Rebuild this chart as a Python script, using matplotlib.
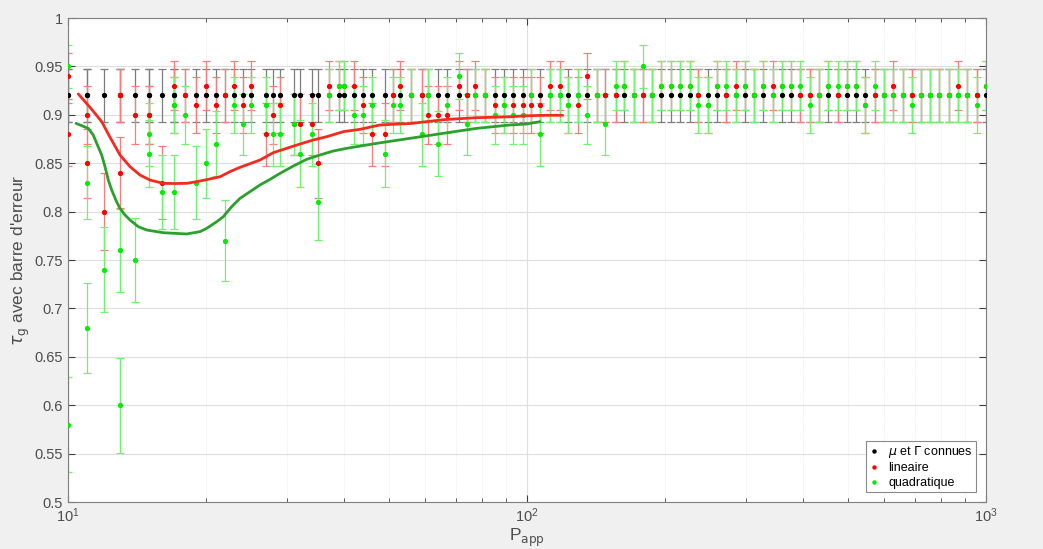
import matplotlib
matplotlib.use("Agg")
import matplotlib.pyplot as plt
import numpy as np
from matplotlib.ticker import FixedLocator, FuncFormatter, LogLocator, NullFormatter

# ---------------- data ----------------
p_app = [10, 10, 11, 11, 12, 13, 13, 14, 15, 15,
         16, 17, 17, 18, 19, 20, 21, 22, 23, 24,
         25, 27, 28, 29, 31, 32, 34, 35, 37, 39,
         40, 42, 44, 46, 49, 51, 53, 56, 59, 61,
         64, 67, 71, 74, 77, 81, 85, 89, 93, 98,
         102, 107, 112, 118, 123, 129, 135, 142, 148, 156,
         163, 171, 179, 187, 196, 206, 215, 226, 236, 248,
         260, 272, 285, 298, 313, 327, 343, 359, 376, 394,
         413, 433, 453, 475, 498, 521, 546, 572, 599, 628,
         658, 689, 722, 756, 792, 830, 870, 911, 955, 1000]

tau_connues = [0.92, 0.92, 0.92, 0.92, 0.92, 0.92, 0.92, 0.92, 0.92, 0.92,
               0.92, 0.92, 0.92, 0.92, 0.92, 0.92, 0.92, 0.92, 0.92, 0.92,
               0.92, 0.92, 0.92, 0.92, 0.92, 0.92, 0.92, 0.92, 0.92, 0.92,
               0.92, 0.92, 0.92, 0.92, 0.92, 0.92, 0.92, 0.92, 0.92, 0.92,
               0.92, 0.92, 0.92, 0.92, 0.92, 0.92, 0.92, 0.92, 0.92, 0.92,
               0.92, 0.92, 0.92, 0.92, 0.92, 0.92, 0.92, 0.92, 0.92, 0.92,
               0.92, 0.92, 0.92, 0.92, 0.92, 0.92, 0.92, 0.92, 0.92, 0.92,
               0.92, 0.92, 0.92, 0.92, 0.92, 0.92, 0.92, 0.92, 0.92, 0.92,
               0.92, 0.92, 0.92, 0.92, 0.92, 0.92, 0.92, 0.92, 0.92, 0.92,
               0.92, 0.92, 0.92, 0.92, 0.92, 0.92, 0.92, 0.92, 0.92, 0.92]

tau_lineaire = [0.94, 0.88, 0.90, 0.85, 0.80, 0.92, 0.84, 0.90, 0.90, 0.90,
                0.83, 0.93, 0.91, 0.92, 0.91, 0.93, 0.91, 0.92, 0.93, 0.91,
                0.93, 0.88, 0.90, 0.91, 0.89, 0.89, 0.89, 0.85, 0.93, 0.93,
                0.93, 0.93, 0.91, 0.88, 0.88, 0.92, 0.93, 0.92, 0.92, 0.90,
                0.90, 0.90, 0.93, 0.92, 0.93, 0.92, 0.91, 0.91, 0.91, 0.91,
                0.91, 0.91, 0.93, 0.93, 0.91, 0.91, 0.94, 0.92, 0.92, 0.92,
                0.93, 0.92, 0.92, 0.92, 0.93, 0.93, 0.93, 0.93, 0.92, 0.91,
                0.93, 0.92, 0.93, 0.93, 0.92, 0.93, 0.93, 0.93, 0.93, 0.92,
                0.92, 0.92, 0.93, 0.92, 0.93, 0.93, 0.91, 0.92, 0.92, 0.93,
                0.92, 0.92, 0.92, 0.92, 0.92, 0.92, 0.93, 0.92, 0.92, 0.93]

tau_quadratique = [0.95, 0.58, 0.83, 0.68, 0.74, 0.76, 0.60, 0.75, 0.88, 0.86,
                   0.82, 0.91, 0.82, 0.90, 0.83, 0.85, 0.87, 0.77, 0.91, 0.89,
                   0.91, 0.91, 0.88, 0.88, 0.89, 0.86, 0.88, 0.81, 0.92, 0.93,
                   0.93, 0.90, 0.90, 0.91, 0.86, 0.91, 0.91, 0.92, 0.88, 0.92,
                   0.87, 0.91, 0.94, 0.89, 0.92, 0.92, 0.90, 0.91, 0.90, 0.90,
                   0.92, 0.88, 0.92, 0.92, 0.91, 0.92, 0.90, 0.92, 0.89, 0.93,
                   0.93, 0.92, 0.95, 0.92, 0.93, 0.93, 0.93, 0.93, 0.91, 0.91,
                   0.93, 0.93, 0.92, 0.93, 0.92, 0.93, 0.92, 0.93, 0.93, 0.93,
                   0.91, 0.92, 0.93, 0.93, 0.93, 0.93, 0.91, 0.93, 0.92, 0.92,
                   0.92, 0.91, 0.92, 0.92, 0.92, 0.92, 0.92, 0.92, 0.91, 0.93]

# number of trials used for the binomial error bars
N_ESSAIS = 100

# smoothed trends
lin_curve_x = [10.53, 11.2, 11.84, 12.34, 12.98, 13.65, 14.35, 15.09, 16.13, 17.1,
               18.14, 19.1, 20.05, 21.44, 22.54, 23.70, 26.20, 28.02, 29.95, 32.02,
               34.23, 36.61, 39.80, 43.27, 47.83, 51.15, 55.7, 60.6, 66.0, 71.3,
               77.6, 85.0, 91.9, 99.9, 110.0, 119.6]
lin_curve_y = [0.9215, 0.907, 0.893, 0.877, 0.8585, 0.8464, 0.8378, 0.8326, 0.8292, 0.829,
               0.8292, 0.831, 0.833, 0.836, 0.8413, 0.8457, 0.8533, 0.8609, 0.8654, 0.8698,
               0.8740, 0.8774, 0.8826, 0.8850, 0.8895, 0.8902, 0.891, 0.893, 0.895, 0.896,
               0.897, 0.8975, 0.898, 0.899, 0.8995, 0.8995]

quad_curve_x = [10.41, 11.07, 11.35, 11.55, 11.84, 12.04, 12.24, 12.45, 12.76, 12.98,
                13.31, 13.65, 14.23, 14.84, 16.13, 18.14, 19.39, 20.05, 21.09, 21.80,
                22.73, 23.70, 24.92, 26.20, 27.55, 28.97, 30.97, 33.11, 35.40, 37.85,
                40.47, 47.03, 55.61, 65.74, 77.70, 91.84, 99.8, 106.7]
quad_curve_y = [0.8912, 0.8860, 0.8791, 0.8705, 0.8585, 0.8464, 0.8326, 0.8223, 0.8102, 0.8034,
                0.7965, 0.7913, 0.7844, 0.7810, 0.7782, 0.7769, 0.7793, 0.7827, 0.7896, 0.7948,
                0.8051, 0.8137, 0.8206, 0.8275, 0.8333, 0.8395, 0.8471, 0.8540, 0.8585, 0.8626,
                0.8654, 0.8705, 0.8757, 0.8809, 0.8860, 0.8895, 0.8905, 0.8929]

y_ticks = [0.5, 0.55, 0.6, 0.65, 0.7, 0.75, 0.8, 0.85, 0.9, 0.95, 1.0]
legend_labels = [r'$\mu$ et $\Gamma$ connues', 'lineaire', 'quadratique']

# ---------------- drawing ----------------
plt.rcParams['font.family'] = ['Liberation Sans', 'DejaVu Sans']
plt.rcParams['mathtext.fontset'] = 'dejavusans'

fig = plt.figure(figsize=(10.43, 5.49), dpi=100, facecolor='#f0f0f0')
ax = fig.add_axes([0.0652, 0.0856, 0.8801, 0.8816])
ax.set_facecolor('white')

x = np.array(p_app, dtype=float)
series = [
    (np.array(tau_connues), 'black', '#7d7d7d'),
    (np.array(tau_lineaire), '#ff0000', '#ff7a7a'),
    (np.array(tau_quadratique), '#00ee00', '#6cf56c'),
]
handles = []
for (y, mc, ec), lab in zip(series, legend_labels):
    err = np.sqrt(y * (1 - y) / N_ESSAIS)
    ax.errorbar(x, y, yerr=err, fmt='none', ecolor=ec, elinewidth=0.9,
                capsize=3, capthick=0.9, zorder=2)
    h, = ax.plot(x, y, '.', color=mc, ms=5.5, zorder=3, label=lab)
    handles.append(h)

ax.plot(lin_curve_x, lin_curve_y, color='#f52a1e', lw=2.0, zorder=4,
        solid_joinstyle='round', solid_capstyle='round')
ax.plot(quad_curve_x, quad_curve_y, color='#2ca02c', lw=2.0, zorder=4,
        solid_joinstyle='round', solid_capstyle='round')

ax.set_xscale('log')
ax.set_xlim(10, 1000)
ax.set_ylim(0.5, 1.0)
ax.yaxis.set_major_locator(FixedLocator(y_ticks))
ax.yaxis.set_major_formatter(FuncFormatter(lambda v, p: '%g' % v))
ax.xaxis.set_major_locator(LogLocator(base=10, numticks=5))
ax.xaxis.set_minor_locator(LogLocator(base=10, subs=np.arange(2, 10), numticks=20))
ax.xaxis.set_minor_formatter(NullFormatter())

ax.grid(True, which='major', color='#dedede', lw=0.8, zorder=0)
ax.grid(True, which='minor', axis='x', color='#e6e6e6', lw=0.6, ls=':', zorder=0)
ax.set_axisbelow(True)

tc = '#404040'
ax.tick_params(which='both', direction='in', top=True, right=True, colors=tc,
               labelsize=10.5, labelcolor='#4d4d4d')
ax.tick_params(which='major', length=5)
ax.tick_params(which='minor', length=3)
for s in ax.spines.values():
    s.set_color('#7f7f7f')
    s.set_linewidth(0.8)

ax.set_xlabel(r'P$_{\mathrm{app}}$', fontsize=12.5, color='#4d4d4d', labelpad=1)
ax.set_ylabel(r"$\tau_{\mathrm{g}}$ avec barre d'erreur", fontsize=12.5, color='#4d4d4d')
ax.yaxis.set_label_coords(-0.039, 0.5)

leg = ax.legend(handles=handles, loc='lower right', fontsize=9, frameon=True,
                fancybox=False, edgecolor='#8a8a8a', framealpha=1,
                handlelength=0.8, handletextpad=0.7, borderpad=0.25,
                labelspacing=0.2, markerscale=0.8, borderaxespad=0.8)
leg.get_frame().set_linewidth(0.8)

fig.savefig('out.png', dpi=100, facecolor=fig.get_facecolor())
